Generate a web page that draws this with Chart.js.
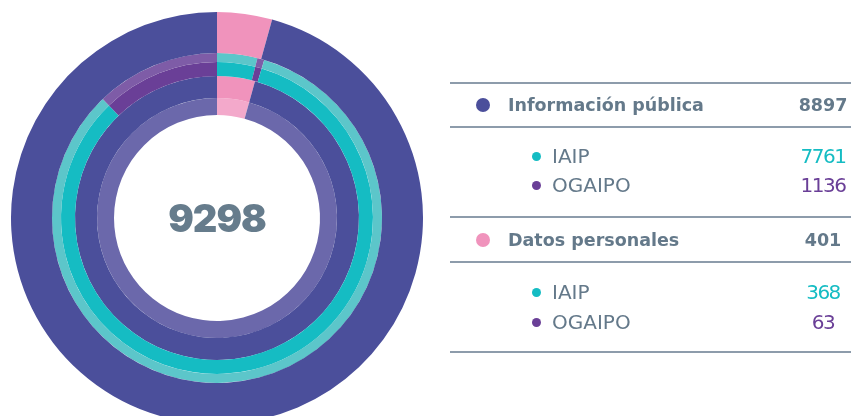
<!DOCTYPE html>
<html>
<head>
<meta charset="utf-8">
<script src="https://cdn.jsdelivr.net/npm/chart.js@4"></script>
<style>
  html, body { margin: 0; padding: 0; background: #fff; overflow: hidden; width: 851px; height: 416px; }
  body { position: relative; font-family: "DejaVu Sans", sans-serif; color: #64798a; }
  #ring-box { position: absolute; left: 11px; top: 12px; width: 412px; height: 412px; }
  #total { position: absolute; left: 117px; top: 196px; width: 200px; text-align: center;
           font-family: "Inter", sans-serif; font-size: 38px; font-weight: 900; color: #667c8c;
           line-height: 44px; letter-spacing: -1px; }
  .rule { position: absolute; left: 450px; width: 401px; height: 2px; background: #8d9cab; }
  .row { position: absolute; left: 0; width: 851px; height: 24px; line-height: 24px; }
  .row .dot { position: absolute; border-radius: 50%; }
  .row .lbl { position: absolute; white-space: nowrap; }
  .row .val { position: absolute; left: 763px; width: 120px; text-align: center; }
  .main { font-weight: bold; font-size: 17.5px; }
  .sub { font-weight: normal; font-size: 20px; }
  .sub .val { letter-spacing: -1.5px; }
</style>
</head>
<body>
<div id="ring-box"><canvas id="rings"></canvas></div>
<div id="total"></div>
<div id="legend"></div>

<script>
/* =====================================
   DATA
======================================== */
const groups = ["Información pública", "Datos personales"];
const groupTotals = [8897, 401];
const subLabels = ["IAIP", "OGAIPO"];
const iaipValues = [7761, 368];
const ogaipoValues = [1136, 63];
const grandTotal = 9298;

// colores
const purpleDark = "#4b4f9b";
const pink = "#f093bc";
const pinkLight = "#f3a9cb";
const lavender = "#6b68ab";
const teal = "#15bcc3";
const tealLight = "#5cc6ca";
const violet = "#6a3f97";
const violetLight = "#7e5ca7";
const groupColors = [purpleDark, pink];
const subColors = [teal, violet];

/* =====================================
   RINGS
======================================== */
// ring 1: Datos personales first (starts at 12 o'clock), then Información pública
const groupRing = [groupTotals[1], groupTotals[0]];
// ring 2: sub-values in the same clockwise order
const subRing = [iaipValues[1], ogaipoValues[1], iaipValues[0], ogaipoValues[0]];

const ringsCanvas = document.getElementById("rings");

let ringsChart = new Chart(ringsCanvas, {
    type: 'doughnut',
    data: {
        labels: [groups[1], groups[0]],
        datasets: [
            { data: groupRing, backgroundColor: [pink, purpleDark], borderWidth: 0, weight: 41 },
            { data: subRing, backgroundColor: [tealLight, violetLight, tealLight, violetLight], borderWidth: 0, weight: 9 },
            { data: subRing, backgroundColor: [teal, violet, teal, violet], borderWidth: 0, weight: 14 },
            { data: groupRing, backgroundColor: [pink, purpleDark], borderWidth: 0, weight: 22 },
            { data: groupRing, backgroundColor: [pinkLight, lavender], borderWidth: 0, weight: 17 }
        ]
    },
    options: {
        responsive: true,
        maintainAspectRatio: false,
        cutout: '50%',
        animation: { duration: 0 },
        plugins: {
            legend: { display: false },
            tooltip: { enabled: false }
        }
    }
});

/* =====================================
   CENTER + LEGEND
======================================== */
document.getElementById("total").textContent = grandTotal;

const legend = document.getElementById("legend");
const ruleTops = [82, 126, 216, 261, 351];
ruleTops.forEach(t => {
    const r = document.createElement("div");
    r.className = "rule";
    r.style.top = t + "px";
    legend.appendChild(r);
});

function addRow(y, text, value, dotColor, valColor, isMain) {
    const row = document.createElement("div");
    row.className = "row " + (isMain ? "main" : "sub");
    row.style.top = (y - 12) + "px";
    const size = isMain ? 14 : 9;
    const dotX = isMain ? 483 : 536;
    row.innerHTML =
        `<span class="dot" style="left:${dotX - size / 2}px;top:${12 - size / 2}px;width:${size}px;height:${size}px;background:${dotColor}"></span>` +
        `<span class="lbl" style="left:${isMain ? 508 : 552}px">${text}</span>` +
        `<span class="val" style="color:${valColor}">${value}</span>`;
    legend.appendChild(row);
}

const rowY = [[105, 156, 185], [240, 292, 322]];
groups.forEach((g, i) => {
    addRow(rowY[i][0], g, groupTotals[i], groupColors[i], "#64798a", true);
    addRow(rowY[i][1], subLabels[0], iaipValues[i], subColors[0], subColors[0], false);
    addRow(rowY[i][2], subLabels[1], ogaipoValues[i], subColors[1], subColors[1], false);
});
</script>
</body>
</html>
